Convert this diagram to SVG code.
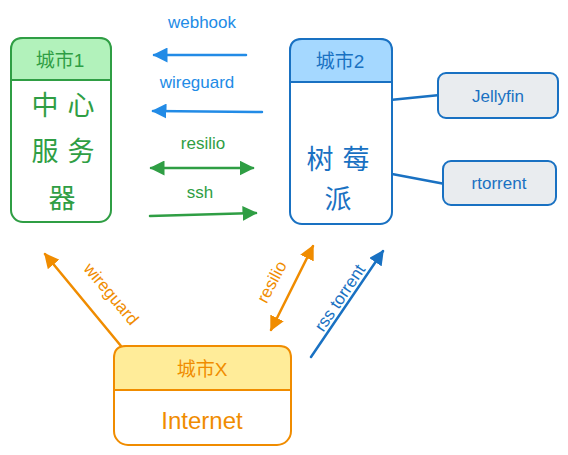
<svg xmlns="http://www.w3.org/2000/svg" width="568" height="455" viewBox="0 0 568 455">
<defs>
<style>
text{font-family:"Liberation Sans","Noto Sans CJK SC",sans-serif;text-anchor:middle;dominant-baseline:central}
.g{fill:#2f9e44}.b{fill:#1971c2}.lb{fill:#228be6}.o{fill:#f08c00}
.ln{fill:none;stroke-width:2.5;stroke-linecap:round}
.box{stroke-width:2;stroke-linejoin:round}
</style>
<marker id="ag" viewBox="0 0 10 10" refX="9" refY="5" markerWidth="6" markerHeight="6" orient="auto-start-reverse" markerUnits="strokeWidth"><path d="M0,0 L10,5 L0,10 z" fill="#2f9e44"/></marker>
<marker id="ab" viewBox="0 0 10 10" refX="9" refY="5" markerWidth="6" markerHeight="6" orient="auto-start-reverse" markerUnits="strokeWidth"><path d="M0,0 L10,5 L0,10 z" fill="#228be6"/></marker>
<marker id="ad" viewBox="0 0 10 10" refX="9" refY="5" markerWidth="6" markerHeight="6" orient="auto-start-reverse" markerUnits="strokeWidth"><path d="M0,0 L10,5 L0,10 z" fill="#1971c2"/></marker>
<marker id="ao" viewBox="0 0 10 10" refX="9" refY="5" markerWidth="6" markerHeight="6" orient="auto-start-reverse" markerUnits="strokeWidth"><path d="M0,0 L10,5 L0,10 z" fill="#f08c00"/></marker>
</defs>
<rect width="568" height="455" fill="#ffffff"/>

<g id="connectors">
<line class="ln" x1="246" y1="55" x2="154" y2="55" stroke="#228be6" marker-end="url(#ab)"/>
<line class="ln" x1="262" y1="112" x2="153" y2="111" stroke="#228be6" marker-end="url(#ab)"/>
<line class="ln" x1="151" y1="168" x2="253" y2="168" stroke="#2f9e44" marker-start="url(#ag)" marker-end="url(#ag)"/>
<line class="ln" x1="150" y1="216" x2="256" y2="213" stroke="#2f9e44" marker-end="url(#ag)"/>
<line class="ln" x1="390" y1="100" x2="440" y2="95" stroke="#1971c2"/>
<line class="ln" x1="392" y1="174" x2="445" y2="184" stroke="#1971c2"/>
<line class="ln" x1="121" y1="346" x2="45" y2="254" stroke="#f08c00" marker-end="url(#ao)"/>
<line class="ln" x1="271" y1="330" x2="313" y2="246" stroke="#f08c00" marker-start="url(#ao)" marker-end="url(#ao)"/>
<line class="ln" x1="311" y1="357" x2="383" y2="251" stroke="#1971c2" marker-end="url(#ad)"/>
<text class="lb" x="202" y="22" font-size="17">webhook</text>
<text class="lb" x="197" y="82" font-size="17">wireguard</text>
<text class="g" x="203" y="143" font-size="17">resilio</text>
<text class="g" x="200" y="192" font-size="17">ssh</text>
<text class="o" x="111" y="294" font-size="17" transform="rotate(50 111 294)">wireguard</text>
<text class="o" x="272" y="282" font-size="17" transform="rotate(-62 272 282)">resilio</text>
<text class="b" x="340" y="298" font-size="17" transform="rotate(-56 340 298)">rss torrent</text>
</g>

<g id="node-city1">
<rect class="box" x="11" y="38" width="100" height="184" rx="12" fill="#ffffff" stroke="#2f9e44"/>
<path class="box" d="M11,80 V50 Q11,38 23,38 H99 Q111,38 111,50 V80 Z" fill="#b2f2bb" stroke="#2f9e44"/>
<text class="g" x="60" y="60" font-size="19">城市1</text>
<text class="g" x="45" y="106" font-size="27">中</text>
<text class="g" x="81" y="106" font-size="27">心</text>
<text class="g" x="45" y="152" font-size="27">服</text>
<text class="g" x="81" y="152" font-size="27">务</text>
<text class="g" x="62" y="199" font-size="27">器</text>
</g>

<g id="node-city2">
<rect class="box" x="290" y="39" width="102" height="185" rx="12" fill="#ffffff" stroke="#1971c2"/>
<path class="box" d="M290,82 V51 Q290,39 302,39 H380 Q392,39 392,51 V82 Z" fill="#a5d8ff" stroke="#1971c2"/>
<text class="b" x="340" y="61" font-size="19">城市2</text>
<text class="b" x="320" y="160" font-size="27">树</text>
<text class="b" x="356" y="160" font-size="27">莓</text>
<text class="b" x="338" y="200" font-size="27">派</text>
</g>

<g id="node-jellyfin">
<rect class="box" x="438" y="73" width="120" height="45" rx="8" fill="#e9ecef" stroke="#1971c2"/>
<text class="b" x="498" y="96" font-size="17">Jellyfin</text>
</g>

<g id="node-rtorrent">
<rect class="box" x="443" y="161" width="113" height="44" rx="8" fill="#e9ecef" stroke="#1971c2"/>
<text class="b" x="499" y="183" font-size="17">rtorrent</text>
</g>

<g id="node-cityx">
<rect class="box" x="114" y="346" width="177" height="99" rx="14" fill="#ffffff" stroke="#f08c00"/>
<path class="box" d="M114,390 V358 Q114,346 126,346 H279 Q291,346 291,358 V390 Z" fill="#ffec99" stroke="#f08c00"/>
<text class="o" x="202" y="369" font-size="19">城市X</text>
<text class="o" x="202" y="420" font-size="24">Internet</text>
</g>
</svg>
